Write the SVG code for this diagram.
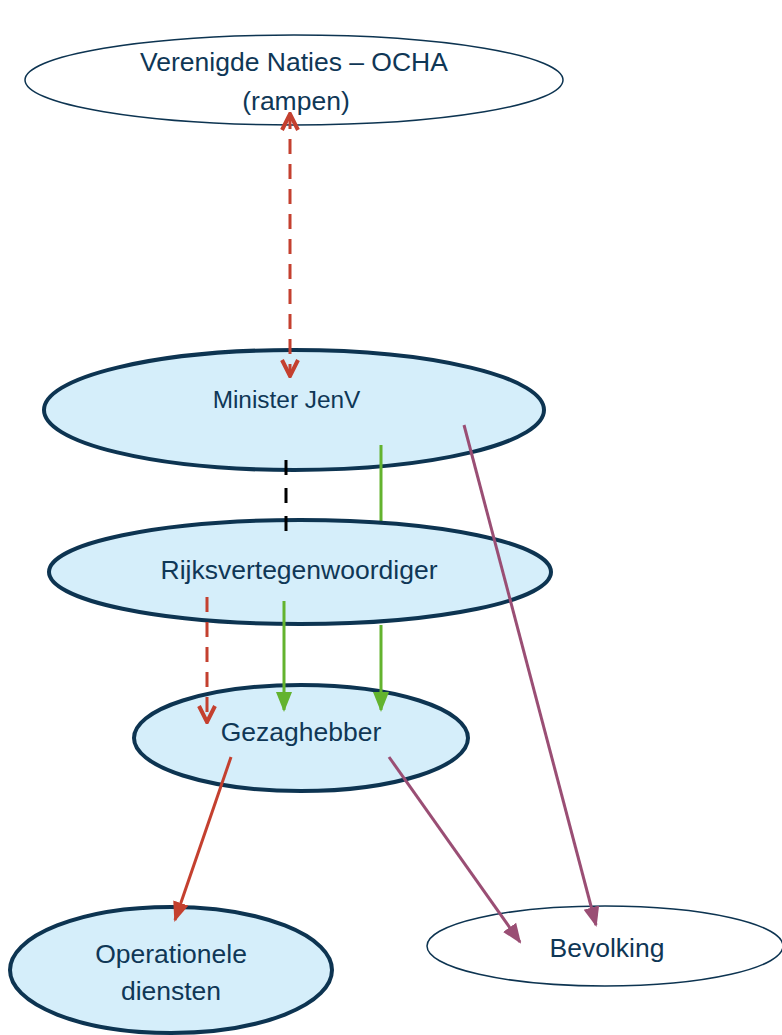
<svg xmlns="http://www.w3.org/2000/svg" width="782" height="1035" viewBox="0 0 782 1035">
<defs>
<style>
.thin{fill:#ffffff;stroke:#0d3451;stroke-width:1.5}
.thick{fill:#d5eefa;stroke:#0d3451;stroke-width:4}
.t{font-family:"Liberation Sans",Arial,sans-serif;font-size:26.5px;fill:#0f3756;text-anchor:middle}
.red{stroke:#c4402f;stroke-width:3;fill:none}
.green{stroke:#63b32e;stroke-width:3;fill:none}
.purple{stroke:#9a4e74;stroke-width:3;fill:none}
.blk{stroke:#000000;stroke-width:3;fill:none;stroke-dasharray:15 13}
</style>
<marker id="vred2" viewBox="0 0 20 20" refX="18" refY="10" markerWidth="20" markerHeight="20" orient="auto-start-reverse" markerUnits="userSpaceOnUse">
<path d="M2,2 L18,10 L2,18" fill="none" stroke="#c4402f" stroke-width="4"/>
</marker>
<marker id="tred" viewBox="0 0 20 20" refX="18" refY="10" markerWidth="20" markerHeight="20" orient="auto" markerUnits="userSpaceOnUse">
<path d="M0,2 L20,10 L0,18 Z" fill="#c4402f"/>
</marker>
<marker id="tgreen" viewBox="0 0 20 20" refX="18" refY="10" markerWidth="20" markerHeight="20" orient="auto" markerUnits="userSpaceOnUse">
<path d="M0,2 L20,10 L0,18 Z" fill="#63b32e"/>
</marker>
<marker id="tpurple" viewBox="0 0 20 20" refX="18" refY="10" markerWidth="20" markerHeight="20" orient="auto" markerUnits="userSpaceOnUse">
<path d="M0,2 L20,10 L0,18 Z" fill="#9a4e74"/>
</marker>
</defs>
<g id="node-ocha">
<ellipse class="thin" cx="294" cy="80" rx="269" ry="45"/>
<text class="t" x="294" y="71">Verenigde Naties – OCHA</text>
<text class="t" x="296" y="110">(rampen)</text>
</g>
<g id="node-minister">
<ellipse class="thick" cx="294" cy="410" rx="250" ry="60"/>
<text class="t" x="286.5" y="408" style="font-size:24.4px">Minister JenV</text>
</g>
<g id="connector-minister-rijks">
<line class="green" x1="381" y1="445" x2="381" y2="522"/>
</g>
<g id="node-rijks">
<ellipse class="thick" cx="300" cy="572" rx="251" ry="52"/>
<text class="t" x="299" y="579">Rijksvertegenwoordiger</text>
</g>
<g id="node-gezag">
<ellipse class="thick" cx="301" cy="738" rx="167" ry="53"/>
<text class="t" x="301" y="741">Gezaghebber</text>
</g>
<g id="node-operationele">
<ellipse class="thick" cx="171" cy="970" rx="161" ry="63"/>
<text class="t" x="171" y="963">Operationele</text>
<text class="t" x="171" y="1000">diensten</text>
</g>
<g id="node-bevolking">
<ellipse class="thin" cx="605" cy="946" rx="178" ry="40"/>
<text class="t" x="607" y="957">Bevolking</text>
</g>
<g id="connectors">
<line class="red" x1="290" y1="114" x2="290" y2="376" stroke-dasharray="15 10" marker-start="url(#vred2)" marker-end="url(#vred2)"/>
<line class="blk" x1="286" y1="460" x2="286" y2="532"/>
<line class="green" x1="381" y1="625" x2="381" y2="710" marker-end="url(#tgreen)"/>
<line class="green" x1="284" y1="601" x2="284" y2="710" marker-end="url(#tgreen)"/>
<line class="red" x1="207" y1="597" x2="207" y2="722" stroke-dasharray="15 10" marker-end="url(#vred2)"/>
<line class="red" x1="231" y1="757" x2="175" y2="920" marker-end="url(#tred)"/>
<line class="purple" x1="389" y1="757" x2="520" y2="942" marker-end="url(#tpurple)"/>
<line class="purple" x1="464" y1="425" x2="596" y2="925" marker-end="url(#tpurple)"/>
</g>
</svg>
